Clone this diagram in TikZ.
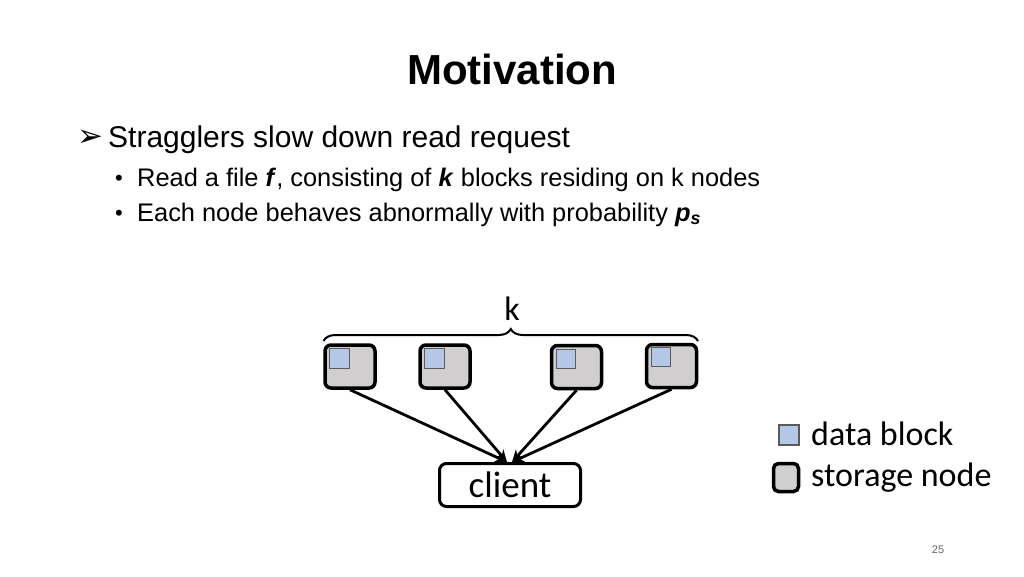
\documentclass[tikz,border=0pt]{standalone}
\usepackage{fontspec}
\setmainfont{Liberation Sans}
\newfontfamily\calib{Carlito}
\newfontfamily\dejavu{DejaVu Sans}
\usetikzlibrary{decorations.pathreplacing,arrows.meta}
\definecolor{nodegray}{RGB}{208,206,206}
\definecolor{blockblue}{RGB}{180,199,231}
\definecolor{blockedge}{RGB}{90,90,90}
\begin{document}
\begin{tikzpicture}[x=1pt,y=-1pt,
  storage/.style={draw=black,line width=3.5pt,rounded corners=6pt,fill=nodegray,inner sep=0pt,minimum width=50pt,minimum height=43pt},
  block/.style={draw=blockedge,line width=1.2pt,fill=blockblue,inner sep=0pt,minimum size=19.5pt},
  conn/.style={line width=2.8pt,-{Stealth[length=12pt,width=11pt]}},
  txt/.style={inner sep=0pt,anchor=base west}]
\useasboundingbox (0,0) rectangle (1024,576);
% title and text
\node[inner sep=0pt,anchor=base] (title) at (512,84) {\fontsize{42}{50}\selectfont\bfseries Motivation};
\node[txt] (arr) at (77,146) {\fontsize{31}{34}\selectfont\dejavu ➢};
\node[txt] (l1) at (108,147) {\fontsize{30}{36}\selectfont Stragglers slow down read request};
\node[txt] (b1) at (115,185) {\fontsize{22}{24}\selectfont •};
\node[txt] (l2) at (137,186) {\fontsize{25.4}{28}\selectfont Read a file \textbf{\textit{f}}, consisting of \textbf{\textit{k}} blocks residing on k nodes};
\node[txt] (b2) at (115,220) {\fontsize{22}{24}\selectfont •};
\node[txt] (l3) at (137,221) {\fontsize{25.4}{28}\selectfont Each node behaves abnormally with probability \textbf{\textit{p\textsubscript{s}}}};
% storage nodes
\node[storage] (n1) at (350,366.5) {};
\node[storage] (n2) at (445,366.5) {};
\node[storage] (n3) at (576.5,367) {};
\node[storage] (n4) at (671.5,366) {};
\node[block,anchor=north west] (d1) at ([shift={(6,5)}]n1.north west) {};
\node[block,anchor=north west] (d2) at ([shift={(6,5)}]n2.north west) {};
\node[block,anchor=north west] (d3) at ([shift={(6,5)}]n3.north west) {};
\node[block,anchor=north west] (d4) at ([shift={(6,4)}]n4.north west) {};
% brace
\coordinate (bl) at (323.5,341);
\coordinate (br) at (698,341);
\draw[line width=2pt,decorate,decoration={brace,amplitude=12pt}] (bl) -- (br);
\node[inner sep=0pt,anchor=base] (k) at (512,320) {\fontsize{34}{40}\selectfont\calib k};
% client
\node[draw=black,line width=3pt,rounded corners=7pt,inner sep=0pt,minimum width=141pt,minimum height=43pt] (client) at (510,485) {};
\node[inner sep=0pt,anchor=base] (clt) at (510,497) {\fontsize{37}{40}\selectfont\calib client};
\coordinate (ca) at ([xshift=-3pt]client.north);
\coordinate (cb) at ([xshift=2pt]client.north);
\draw[conn] (n1.south) -- (ca);
\draw[conn] (n2.south) -- (ca);
\draw[conn] (n3.south) -- (cb);
\draw[conn] (n4.south) -- (cb);
% legend
\node[draw=blockedge,line width=1.2pt,fill=blockblue,inner sep=0pt,minimum size=20pt] (lb) at (789,435) {};
\node[txt] (lbt) at (811,445) {\fontsize{34}{38}\selectfont\calib data block};
\node[draw=black,line width=3.5pt,rounded corners=5pt,fill=nodegray,inner sep=0pt,minimum width=25pt,minimum height=28pt] (ls) at (786,477.5) {};
\node[txt] (lst) at (811,486) {\fontsize{34}{38}\selectfont\calib storage node};
% page number
\node[inner sep=0pt,anchor=base] (pg) at (938,553) {\fontsize{11}{13}\selectfont\color{gray!80!black}25};
\end{tikzpicture}
\end{document}
